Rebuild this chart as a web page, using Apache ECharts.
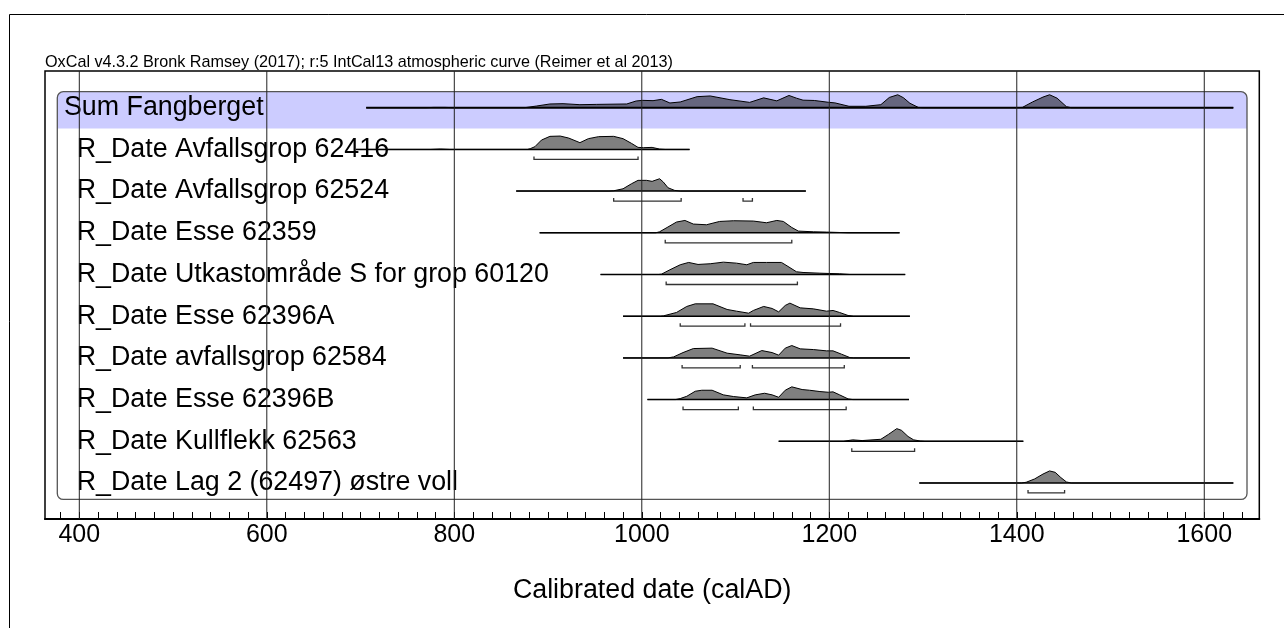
<!DOCTYPE html>
<html>
<head>
<meta charset="utf-8">
<script src="https://cdn.jsdelivr.net/npm/echarts@6/dist/echarts.min.js"></script>
<style>
html,body{margin:0;padding:0;background:#fff;}
#chart{width:1284px;height:628px;}
</style>
</head>
<body>
<div id="chart"></div>
<script>
// ---------- DATA ----------
const subtitle = 'OxCal v4.3.2 Bronk Ramsey (2017); r:5 IntCal13 atmospheric curve (Reimer et al 2013)';
const axisTitle = 'Calibrated date (calAD)';
const rowLabels = [
  'Sum Fangberget',
  'R_Date Avfallsgrop 62416',
  'R_Date Avfallsgrop 62524',
  'R_Date Esse 62359',
  'R_Date Utkastområde S for grop 60120',
  'R_Date Esse 62396A',
  'R_Date avfallsgrop 62584',
  'R_Date Esse 62396B',
  'R_Date Kullflekk 62563',
  'R_Date Lag 2 (62497) østre voll'
];
const tickLabels = [400, 600, 800, 1000, 1200, 1400, 1600];
const minorTicks = [380,400,420,440,460,480,500,520,540,560,580,600,620,640,660,680,700,720,740,760,780,800,820,840,860,880,900,920,940,960,980,1000,1020,1040,1060,1080,1100,1120,1140,1160,1180,1200,1220,1240,1260,1280,1300,1320,1340,1360,1380,1400,1420,1440,1460,1480,1500,1520,1540,1560,1580,1600,1620,1640];
// calculated range extent (cal AD) of each distribution
const spans = [[706,1631],[695,1051],[866,1175],[891,1275],[956,1281],[980,1286],[980,1286],[1006,1285],[1146,1407],[1296,1631]];
// relative probability by year (cal AD)
const densSum = [[706,0],[770,0],[778,0.3],[790,0.3],[800,0],[875,0],[888,1.7],[902,3.7],[916,4],[934,3],[952,3.3],[984,3.7],[994,6.7],[1001,7.3],[1012,7],[1021,8.3],[1030,4.7],[1041,5.7],[1059,11],[1073,11.7],[1094,8],[1115,5.3],[1130,9.8],[1144,6.8],[1157,12.2],[1165,9.5],[1172,7.5],[1184,7.2],[1199,5.4],[1206,4.8],[1221,1.4],[1239,1.4],[1255,3],[1264,10.2],[1273,12.9],[1279,10],[1286,4.4],[1295,0.3],[1300,0],[1400,0],[1406,0.3],[1417,5.8],[1428,10.6],[1435,12.9],[1443,9.5],[1453,1],[1458,0],[1631,0]];
const dens62416 = [[695,0],[775,0],[785,0.4],[795,0],[878,0],[881,0.7],[886,2.7],[893,9.3],[902,13],[913,13.3],[922,11.3],[934,6.7],[943,10.7],[954,12.7],[970,13],[980,10.7],[989,6],[996,2],[1002,1.7],[1011,2],[1019,0.3],[1025,0],[1051,0]];
const dens62524 = [[866,0],[965,0],[970,0.3],[980,2.3],[989,7.3],[996,10.7],[1005,10.7],[1011,9.7],[1019,12.3],[1023,9],[1028,3.3],[1035,0.7],[1041,0],[1175,0]];
const dens62359 = [[891,0],[1015,0],[1019,1],[1027,5.3],[1037,10.7],[1046,12.3],[1055,8.7],[1069,8],[1083,11.3],[1098,12],[1119,11.7],[1133,10],[1144,12.3],[1151,11.3],[1160,5.3],[1167,1.7],[1183,1],[1197,0.7],[1211,0.3],[1220,0],[1275,0]];
const dens60120 = [[956,0],[1018,0],[1021,0.3],[1030,4.7],[1041,9.7],[1050,12],[1060,10],[1073,10.7],[1087,12.3],[1101,11.3],[1112,9.7],[1119,12],[1133,12],[1149,12],[1156,8],[1165,2.7],[1172,2],[1190,1.3],[1211,0.7],[1222,0],[1281,0]];
const dens62396A = [[980,0],[1020,0],[1023,0.3],[1037,3.7],[1048,9.7],[1057,12.3],[1076,12.3],[1091,6.7],[1101,5],[1114,3],[1119,5.7],[1130,9.7],[1139,7.7],[1146,4.3],[1153,10.7],[1158,13],[1169,8.3],[1183,7.3],[1197,5],[1204,5.7],[1211,3.7],[1220,0.7],[1226,0],[1286,0]];
const dens62584 = [[980,0],[1028,0],[1034,1],[1044,5.3],[1055,9.3],[1075,9.7],[1091,4.7],[1105,3],[1115,1.7],[1128,7.3],[1139,5.3],[1146,2.7],[1153,9.7],[1160,12.3],[1169,9],[1183,8.3],[1197,7],[1204,7],[1213,3.7],[1222,0.3],[1226,0],[1286,0]];
const dens62396B = [[1006,0],[1036,0],[1041,1],[1048,3.3],[1057,8.3],[1064,9.3],[1075,9.3],[1087,4.7],[1098,3],[1112,1.7],[1121,4.7],[1131,6.3],[1139,4.7],[1146,2.3],[1153,9.3],[1160,12.7],[1171,10],[1179,9.3],[1190,8],[1199,7.3],[1204,7.7],[1211,4.7],[1220,0.7],[1225,0],[1285,0]];
const dens62563 = [[1146,0],[1215,0],[1225,1.4],[1235,0.7],[1255,2],[1263,6.8],[1272,12.6],[1277,10.9],[1284,4.8],[1290,1.4],[1297,0.3],[1302,0],[1407,0]];
const dens62497 = [[1296,0],[1405,0],[1410,0.7],[1419,4],[1428,8.9],[1435,12],[1441,10.6],[1447,5.4],[1453,1],[1458,0],[1631,0]];
// 95.4% highest posterior density ranges
const ranges = [[],[[885,996]],[[970,1042],[1108,1118]],[[1025,1160]],[[1026,1166]],[[1041,1110],[1116,1212]],[[1043,1105],[1118,1216]],[[1044,1103],[1119,1218]],[[1224,1291]],[[1412,1451]]];

// ---------- CHART ----------
const densities = [densSum, dens62416, dens62524, dens62359, dens60120, dens62396A, dens62584, dens62396B, dens62563, dens62497];
const FONT = '"Liberation Sans", Arial, Helvetica, sans-serif';
const nRows = rowLabels.length;
const peakHeight = 0.32; // in row units
let densMax = 0;
densities.forEach(d => d.forEach(p => { if (p[1] > densMax) densMax = p[1]; }));
const rowBase = i => nRows - 1 - i;

const chart = echarts.init(document.getElementById('chart'), null, {renderer: 'canvas'});

function renderFrame(params, api) {
  const cs = params.coordSys;
  const top = api.coord([0, rowBase(0) + 0.384])[1];
  const bandBottom = api.coord([0, rowBase(0) - 0.5])[1];
  const bottom = api.coord([0, rowBase(nRows - 1) - 0.395])[1];
  const left = cs.x + 12.3, right = cs.x + cs.width - 12.3;
  return {
    type: 'group',
    children: [
      {type: 'rect', shape: {x: left, y: top, width: right - left, height: bandBottom - top, r: [6, 6, 0, 0]}, style: {fill: '#ccccff', stroke: null}},
      {type: 'rect', shape: {x: left, y: top, width: right - left, height: bottom - top, r: 6}, style: {fill: null, stroke: '#555', lineWidth: 1.3}}
    ]
  };
}

function renderRow(params, api) {
  const i = params.dataIndex;
  const base = rowBase(i);
  const cs = params.coordSys;
  const dens = densities[i];
  const pts = dens.map(d => api.coord([d[0], base + d[1] / densMax * peakHeight]));
  const b0 = api.coord([dens[0][0], base]);
  const b1 = api.coord([dens[dens.length - 1][0], base]);
  const children = [];
  children.push({type: 'polygon', shape: {points: pts.concat([b1, b0])}, style: {fill: 'rgba(0,0,0,0.5)', stroke: null}});
  children.push({type: 'polyline', shape: {points: pts}, style: {stroke: '#000', lineWidth: 1, fill: null}});
  const a = api.coord([spans[i][0], base]), b = api.coord([spans[i][1], base]);
  children.push({type: 'line', shape: {x1: a[0], y1: a[1], x2: b[0], y2: b[1]}, style: {stroke: '#000', lineWidth: i === 0 ? 2 : 1.5}});
  ranges[i].forEach(r => {
    const p = api.coord([r[0], base]), q = api.coord([r[1], base]);
    const y = p[1] + 10;
    children.push({type: 'polyline', shape: {points: [[p[0], y - 3], [p[0], y], [q[0], y], [q[0], y - 3]]}, style: {stroke: '#333', lineWidth: 1.3, fill: null}});
  });
  children.push({type: 'text', style: {text: rowLabels[i], x: cs.x + (i === 0 ? 19 : 31.7), y: a[1], fontSize: 26.8, fontFamily: FONT, fill: '#000', align: 'left', verticalAlign: 'middle'}});
  return {type: 'group', children};
}

function renderGrid(params, api) {
  const cs = params.coordSys;
  const x = api.coord([api.value(0), 0])[0];
  return {type: 'line', shape: {x1: x, y1: cs.y, x2: x, y2: cs.y + cs.height}, style: {stroke: '#222', lineWidth: 1}};
}

const option = {
  animation: false,
  textStyle: {fontFamily: FONT},
  title: {
    text: subtitle, left: 45, top: 55, padding: 0,
    textStyle: {fontSize: 16.2, fontWeight: 'normal', color: '#000', fontFamily: FONT}
  },
  graphic: [
    {type: 'line', shape: {x1: 9.5, y1: 14.5, x2: 1284, y2: 14.5}, style: {stroke: '#000', lineWidth: 1}},
    {type: 'line', shape: {x1: 9.5, y1: 14.5, x2: 9.5, y2: 628}, style: {stroke: '#000', lineWidth: 1}}
  ],
  grid: {left: 45, right: 24.7, top: 71, bottom: 109, show: true, borderColor: '#000', borderWidth: 1.5, backgroundColor: 'transparent'},
  xAxis: {
    type: 'value', min: 363.4, max: 1658.7,
    name: axisTitle, nameLocation: 'middle', nameGap: 58,
    nameTextStyle: {fontSize: 26.8, color: '#000', fontFamily: FONT},
    axisLine: {show: true, onZero: false, lineStyle: {color: '#000', width: 2}},
    axisTick: {show: true, inside: true, length: 7, customValues: minorTicks, lineStyle: {color: '#000', width: 1}},
    axisLabel: {show: true, customValues: tickLabels, fontSize: 25, color: '#000', margin: 4, fontFamily: FONT, formatter: v => String(v)},
    splitLine: {show: false}
  },
  yAxis: {type: 'value', min: -0.864, max: 9.88, show: false, splitLine: {show: false}},
  series: [
    {type: 'custom', z: 1, renderItem: renderFrame, data: [[0, 0]], silent: true},
    {type: 'custom', z: 2, renderItem: renderRow, data: rowLabels.map((l, i) => [spans[i][0], rowBase(i)]), silent: true},
    {type: 'custom', z: 3, renderItem: renderGrid, data: tickLabels.map(v => [v, 0]), silent: true}
  ]
};
chart.setOption(option);
</script>
</body>
</html>
